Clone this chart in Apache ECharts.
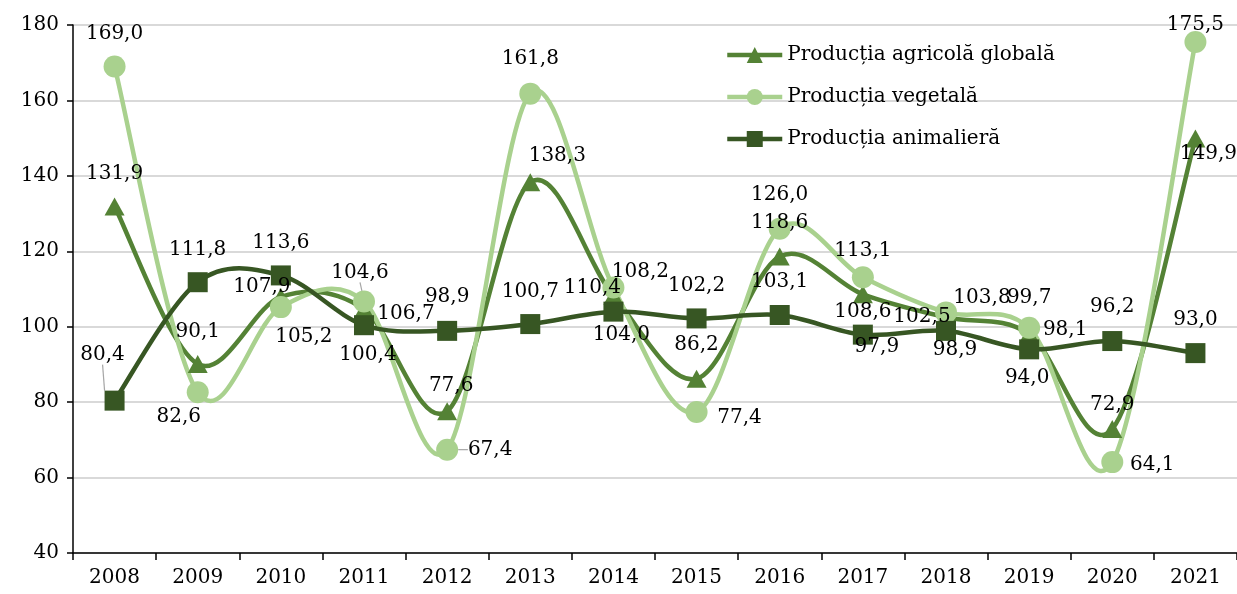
<!DOCTYPE html>
<html>
<head>
<meta charset="utf-8">
<script src="https://cdn.jsdelivr.net/npm/echarts@6/dist/echarts.min.js"></script>
<style>
html, body { margin: 0; padding: 0; background: #fff; }
#chart { width: 1237px; height: 594px; }
</style>
</head>
<body>
<div id="chart"></div>
<script>
// date
const years = ['2008', '2009', '2010', '2011', '2012', '2013', '2014', '2015', '2016', '2017', '2018', '2019', '2020', '2021'];
const globala = [131.9, 90.1, 107.9, 104.6, 77.6, 138.3, 108.2, 86.2, 118.6, 108.6, 102.5, 98.1, 72.9, 149.9];
const vegetala = [169.0, 82.6, 105.2, 106.7, 67.4, 161.8, 110.4, 77.4, 126.0, 113.1, 103.8, 99.7, 64.1, 175.5];
const animaliera = [80.4, 111.8, 113.6, 100.4, 98.9, 100.7, 104.0, 102.2, 103.1, 97.9, 98.9, 94.0, 96.2, 93.0];

// unde stau etichetele fata de punct (dx, dy)
const offGlobala = [[0,-33],[0,-32],[-19,-10],[-4,-37],[4,-25],[27,-26],[27,-24],[0,-34],[0,-34],[0,18],[-24,0],[36,-4],[0,-24],[13,15]];
const offVegetala = [[0,-33],[-19,24],[23,30],[42,12],[43,0],[0,-35],[-21,0],[43,6],[0,-34],[0,-27],[36,-15],[0,-30],[40,3],[0,-17]];
const offAnimaliera = [[-12,-46],[0,-32],[0,-33],[4,30],[0,-34],[0,-32],[8,23],[0,-33],[0,-33],[14,12],[9,19],[-2,28],[0,-34],[0,-33]];
// etichete cu linie de ghidaj (index an)
const ghidGlobala = [3];
const ghidVegetala = [4];
const ghidAnimaliera = [0];

const font = 'DejaVu Serif';
const fs = 20;

function puncte(values, ghid) {
  return values.map(function (v, i) {
    const item = { value: v };
    if (ghid.indexOf(i) >= 0) item.labelLine = { show: true };
    return item;
  });
}

// markerele si etichetele (linia o trage curba de mai jos)
function serie(name, values, offsets, ghid, color, symbol, size) {
  return {
    name: name,
    type: 'line',
    z: 3,
    data: puncte(values, ghid),
    symbol: symbol,
    symbolSize: size,
    lineStyle: { color: color, width: 4.5, opacity: 0 },
    itemStyle: { color: color },
    label: {
      show: true,
      position: 'inside',
      color: '#000',
      fontFamily: font,
      fontSize: fs,
      formatter: function (p) { return p.value.toFixed(1).replace('.', ','); }
    },
    labelLine: { show: false, lineStyle: { color: '#a6a6a6', width: 1.2 } },
    labelLayout: function (params) {
      const o = offsets[params.dataIndex];
      return { dx: o[0], dy: o[1] };
    },
    emphasis: { disabled: true }
  };
}

// curba netezita ca in Excel (Catmull-Rom), prin coordonatele axelor
function curba(values, color, z) {
  return {
    type: 'custom',
    silent: true,
    z: z,
    data: [[0, values[0]]],
    renderItem: function (params, api) {
      const p = values.map(function (v, i) { return api.coord([i, v]); });
      const t = 1 / 6;
      let d = 'M' + p[0][0] + ' ' + p[0][1];
      for (let i = 0; i < p.length - 1; i++) {
        const a = p[i - 1] || p[i], b = p[i], c = p[i + 1], e = p[i + 2] || p[i + 1];
        const c1x = b[0] + (c[0] - a[0]) * t, c1y = b[1] + (c[1] - a[1]) * t;
        const c2x = c[0] - (e[0] - b[0]) * t, c2y = c[1] - (e[1] - b[1]) * t;
        d += ' C' + c1x + ' ' + c1y + ' ' + c2x + ' ' + c2y + ' ' + c[0] + ' ' + c[1];
      }
      return {
        type: 'path',
        shape: { pathData: d },
        style: { fill: null, stroke: color, lineWidth: 4.5, lineJoin: 'round' }
      };
    }
  };
}

let myChart = echarts.init(document.getElementById('chart'));
myChart.setOption({
  animation: false,
  textStyle: { fontFamily: font },
  grid: { left: 73, right: 0, top: 25, bottom: 41 },
  legend: {
    orient: 'vertical',
    left: 720,
    top: 40,
    itemWidth: 55,
    itemHeight: 20,
    itemGap: 22,
    lineStyle: { opacity: 1, width: 4.5 },
    textStyle: { fontFamily: font, fontSize: fs, color: '#000' },
    data: ['Producția agricolă globală', 'Producția vegetală', 'Producția animalieră']
  },
  xAxis: {
    type: 'category',
    data: years,
    boundaryGap: true,
    axisLine: { lineStyle: { color: '#000', width: 1.5 } },
    axisTick: { show: true, length: 7, lineStyle: { color: '#000', width: 1.5 } },
    axisLabel: { color: '#000', fontFamily: font, fontSize: fs, margin: 15 },
    splitLine: { show: false }
  },
  yAxis: {
    type: 'value',
    min: 40,
    max: 180,
    interval: 20,
    axisLine: { show: true, lineStyle: { color: '#000', width: 1.5 } },
    axisTick: { show: true, length: 6, lineStyle: { color: '#000', width: 1.5 } },
    axisLabel: { color: '#000', fontFamily: font, fontSize: fs, margin: 14 },
    splitLine: { show: true, lineStyle: { color: '#d9d9d9', width: 2 } }
  },
  series: [
    curba(globala, '#548235', 2),
    curba(vegetala, '#a9d18e', 2),
    curba(animaliera, '#375623', 2),
    serie('Producția agricolă globală', globala, offGlobala, ghidGlobala, '#548235', 'triangle', [20, 18]),
    serie('Producția vegetală', vegetala, offVegetala, ghidVegetala, '#a9d18e', 'circle', 22),
    serie('Producția animalieră', animaliera, offAnimaliera, ghidAnimaliera, '#375623', 'rect', 20)
  ]
});
</script>
</body>
</html>
